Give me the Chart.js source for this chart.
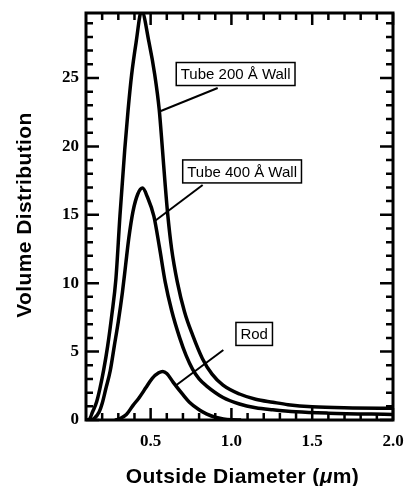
<!DOCTYPE html>
<html>
<head>
<meta charset="utf-8">
<script src="https://cdn.jsdelivr.net/npm/chart.js@4/dist/chart.umd.min.js"></script>
<style>
  html, body { margin: 0; padding: 0; background: #fff; }
  #wrap { width: 406px; height: 486px; }
</style>
</head>
<body>
<div id="wrap"><canvas id="sizeChart" width="406" height="486"></canvas></div>
<script>
// values
const tube200X = [0.10, 0.12, 0.141, 0.165, 0.186, 0.21, 0.234, 0.26, 0.285, 0.31, 0.34, 0.36, 0.382, 0.41, 0.444, 0.49, 0.526, 0.553, 0.573, 0.59, 0.606, 0.63, 0.665, 0.71, 0.76, 0.82, 0.88, 0.948, 1.05, 1.15, 1.256, 1.35, 1.5, 1.75, 2.0];
const tube200Y = [0, 0.05, 0.6, 1.3, 2.3, 3.7, 5.4, 7.7, 10.3, 14.9, 19.8, 22.6, 25.2, 27.6, 29.9, 27.6, 25.2, 22.7, 19.8, 17.2, 15.0, 12.5, 10.1, 7.9, 6.2, 4.5, 3.35, 2.55, 1.9, 1.52, 1.3, 1.12, 0.96, 0.88, 0.85];

const tube400X = [0.13, 0.15, 0.182, 0.20, 0.223, 0.25, 0.275, 0.30, 0.325, 0.345, 0.365, 0.39, 0.42, 0.45, 0.48, 0.52, 0.555, 0.59, 0.63, 0.68, 0.72, 0.76, 0.80, 0.845, 0.948, 1.05, 1.15, 1.256, 1.4, 1.6, 2.0];
const tube400Y = [0, 0.1, 0.6, 1.2, 2.3, 3.6, 5.4, 7.2, 9.3, 11.3, 13.3, 15.2, 16.5, 16.95, 16.3, 14.9, 12.6, 10.1, 8.0, 6.0, 4.7, 3.7, 3.0, 2.5, 1.65, 1.17, 0.9, 0.75, 0.6, 0.5, 0.4];

const rodX = [0.28, 0.31, 0.35, 0.39, 0.43, 0.47, 0.51, 0.55, 0.575, 0.60, 0.64, 0.70, 0.74, 0.80, 0.845, 0.90, 0.95, 1.0, 1.06];
const rodY = [0, 0.1, 0.4, 1.05, 1.65, 2.35, 3.05, 3.45, 3.55, 3.4, 2.75, 1.85, 1.3, 0.75, 0.45, 0.2, 0.08, 0.02, 0];

const xLabelTicks = [0.5, 1.0, 1.5, 2.0];
const yLabelTicks = [0, 5, 10, 15, 20, 25];
const xMinorTicks = [0.2, 0.3, 0.4, 0.6, 0.7, 0.8, 0.9, 1.1, 1.2, 1.3, 1.4, 1.6, 1.7, 1.8, 1.9];
const yMinorTicks = [1, 2, 3, 4, 6, 7, 8, 9, 11, 12, 13, 14, 16, 17, 18, 19, 21, 22, 23, 24, 26, 27, 28, 29];

const xTitle = "Outside Diameter (";
const xTitleUnit = "μ";
const xTitleEnd = "m)";
const yTitle = "Volume Distribution";

// callouts: text box centre and leader line, in data units
const callouts = [
  { text: "Tube 200 Å Wall", cx: 1.026, cy: 25.29, from: [0.915, 24.27], to: [0.563, 22.59] },
  { text: "Tube 400 Å Wall", cx: 1.066, cy: 18.17, from: [0.822, 17.18], to: [0.526, 14.55] },
  { text: "Rod", cx: 1.141, cy: 6.29, from: [0.95, 5.12], to: [0.66, 2.56] }
];

function pts(xs, ys) {
  return xs.map((x, i) => ({ x: x, y: ys[i] }));
}

function curve(label, xs, ys) {
  return {
    label: label,
    data: pts(xs, ys),
    borderColor: "#000",
    borderWidth: 3.5,
    pointRadius: 0,
    fill: false,
    cubicInterpolationMode: "monotone"
  };
}

// no extra room for overflowing tick labels, the plot box is fixed
function noPad(axis) {
  axis.paddingLeft = 0;
  axis.paddingRight = 0;
  axis.paddingTop = 0;
  axis.paddingBottom = 0;
}

const frameAndNotes = {
  id: "frameAndNotes",
  afterDatasetsDraw(chart) {
    const ctx = chart.ctx;
    const a = chart.chartArea;
    const xs = chart.scales.x;
    const ys = chart.scales.y;
    ctx.save();
    ctx.strokeStyle = "#000";
    ctx.lineCap = "butt";

    // ticks on all four sides, pointing inwards
    ctx.lineWidth = 2.5;
    function xTick(v, len) {
      const px = xs.getPixelForValue(v);
      ctx.beginPath();
      ctx.moveTo(px, a.bottom); ctx.lineTo(px, a.bottom - len);
      ctx.moveTo(px, a.top); ctx.lineTo(px, a.top + len);
      ctx.stroke();
    }
    function yTick(v, len) {
      const py = ys.getPixelForValue(v);
      ctx.beginPath();
      ctx.moveTo(a.left, py); ctx.lineTo(a.left + len, py);
      ctx.moveTo(a.right, py); ctx.lineTo(a.right - len, py);
      ctx.stroke();
    }
    xMinorTicks.forEach(v => xTick(v, 7));
    xLabelTicks.forEach(v => xTick(v, 12));
    yMinorTicks.forEach(v => yTick(v, 7));
    yLabelTicks.forEach(v => yTick(v, 13));

    // frame
    ctx.lineWidth = 3;
    ctx.strokeRect(a.left, a.top, a.right - a.left, a.bottom - a.top);

    // callouts
    ctx.font = "15px 'Liberation Sans', Arial, sans-serif";
    ctx.textAlign = "center";
    ctx.textBaseline = "middle";
    callouts.forEach(c => {
      ctx.lineWidth = 2;
      ctx.beginPath();
      ctx.moveTo(xs.getPixelForValue(c.from[0]), ys.getPixelForValue(c.from[1]));
      ctx.lineTo(xs.getPixelForValue(c.to[0]), ys.getPixelForValue(c.to[1]));
      ctx.stroke();
      const cx = xs.getPixelForValue(c.cx);
      const cy = ys.getPixelForValue(c.cy);
      const w = ctx.measureText(c.text).width + 9;
      const h = 23;
      ctx.fillStyle = "#fff";
      ctx.fillRect(cx - w / 2, cy - h / 2, w, h);
      ctx.lineWidth = 1.5;
      ctx.strokeRect(cx - w / 2, cy - h / 2, w, h);
      ctx.fillStyle = "#000";
      ctx.fillText(c.text, cx, cy + 1);
    });

    // axis titles
    ctx.fillStyle = "#000";
    ctx.textBaseline = "alphabetic";
    ctx.letterSpacing = "0.4px";
    const bold = "bold 21px 'Liberation Sans', Arial, sans-serif";
    const boldIt = "italic bold 21px 'Liberation Sans', Arial, sans-serif";
    ctx.font = bold;
    const w1 = ctx.measureText(xTitle).width;
    const w3 = ctx.measureText(xTitleEnd).width;
    ctx.font = boldIt;
    const w2 = ctx.measureText(xTitleUnit).width;
    let x0 = (a.left + a.right) / 2 + 3 - (w1 + w2 + w3) / 2;
    const yb = 483;
    ctx.textAlign = "left";
    ctx.font = bold;
    ctx.fillText(xTitle, x0, yb);
    ctx.font = boldIt;
    ctx.fillText(xTitleUnit, x0 + w1, yb);
    ctx.font = bold;
    ctx.fillText(xTitleEnd, x0 + w1 + w2, yb);

    ctx.translate(31, 215);
    ctx.rotate(-Math.PI / 2);
    ctx.textAlign = "center";
    ctx.fillText(yTitle, 0, 0);
    ctx.restore();
  }
};

const tickFont = { family: "'Liberation Serif', 'Times New Roman', serif", size: 17, weight: "bold" };

new Chart(document.getElementById("sizeChart").getContext("2d"), {
  type: "line",
  data: {
    datasets: [
      curve("Tube 200 Å Wall", tube200X, tube200Y),
      curve("Tube 400 Å Wall", tube400X, tube400Y),
      curve("Rod", rodX, rodY)
    ]
  },
  options: {
    responsive: false,
    animation: false,
    layout: { autoPadding: false, padding: { top: 13, right: 13, left: 0, bottom: 0 } },
    plugins: {
      legend: { display: false },
      tooltip: { enabled: false }
    },
    scales: {
      x: {
        type: "linear",
        min: 0.1,
        max: 2.0,
        grid: { display: false, drawTicks: false },
        border: { display: false },
        ticks: {
          color: "#000",
          font: tickFont,
          padding: 11,
          maxRotation: 0,
          callback: v => v.toFixed(1)
        },
        afterBuildTicks: axis => { axis.ticks = xLabelTicks.map(v => ({ value: v })); },
        afterFit: axis => { axis.height = 66; noPad(axis); }
      },
      y: {
        type: "linear",
        min: 0,
        max: 29.75,
        grid: { display: false, drawTicks: false },
        border: { display: false },
        ticks: {
          color: "#000",
          font: tickFont,
          padding: 7,
          callback: v => String(v)
        },
        afterBuildTicks: axis => { axis.ticks = yLabelTicks.map(v => ({ value: v })); },
        afterFit: axis => { axis.width = 86; noPad(axis); }
      }
    }
  },
  plugins: [frameAndNotes]
});
</script>
</body>
</html>
